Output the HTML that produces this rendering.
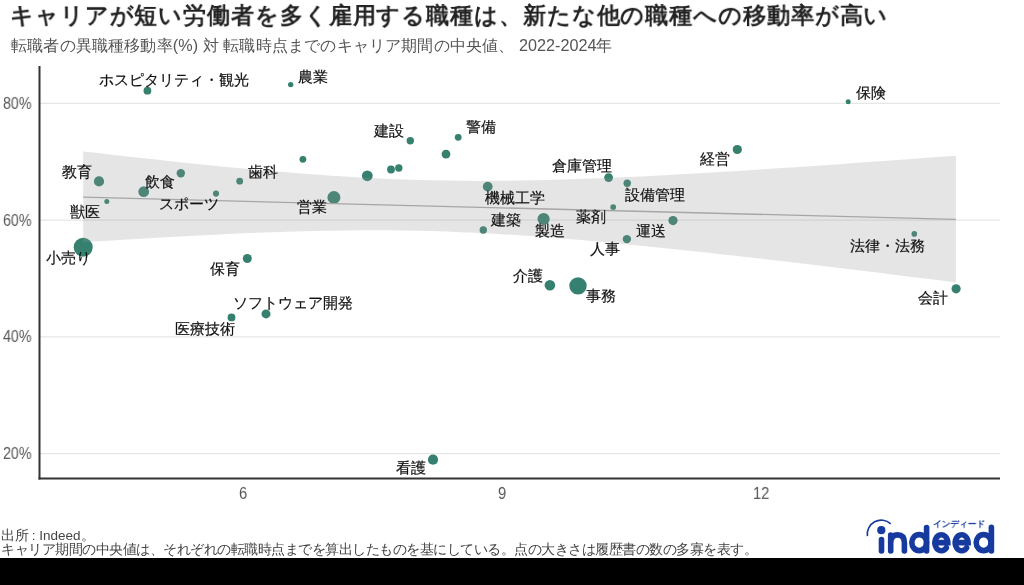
<!DOCTYPE html>
<html lang="ja"><head><meta charset="utf-8"><style>
html,body{margin:0;padding:0;background:#fff;width:1024px;height:585px;overflow:hidden;position:relative}
body{font-family:"Liberation Sans",sans-serif}
svg{position:absolute;left:0;top:0;font-family:"Liberation Sans",sans-serif}
.t{will-change:transform;position:absolute;white-space:nowrap;line-height:1;transform-origin:0 0}
</style></head><body>
<svg width="1024" height="585" viewBox="0 0 1024 585"><line x1="40" y1="103.4" x2="1000" y2="103.4" stroke="#e6e6e6" stroke-width="1.3"/><line x1="40" y1="220.1" x2="1000" y2="220.1" stroke="#e6e6e6" stroke-width="1.3"/><line x1="40" y1="336.85" x2="1000" y2="336.85" stroke="#e6e6e6" stroke-width="1.3"/><line x1="40" y1="453.6" x2="1000" y2="453.6" stroke="#e6e6e6" stroke-width="1.3"/><circle cx="83.2" cy="247.20" r="9.5" fill="#35806e"/><circle cx="99" cy="181.40" r="5.1" fill="#35806e"/><circle cx="106.8" cy="201.40" r="2.5" fill="#35806e"/><circle cx="143.7" cy="191.70" r="5.4" fill="#35806e"/><circle cx="180.8" cy="173.20" r="4.2" fill="#35806e"/><circle cx="216" cy="193.60" r="3.1" fill="#35806e"/><circle cx="239.7" cy="181.20" r="3.4" fill="#35806e"/><circle cx="302.9" cy="159.30" r="3.4" fill="#35806e"/><circle cx="333.9" cy="197.50" r="6.5" fill="#35806e"/><circle cx="367.3" cy="175.80" r="5.4" fill="#35806e"/><circle cx="147.4" cy="90.70" r="3.9" fill="#35806e"/><circle cx="290.7" cy="84.60" r="2.7" fill="#35806e"/><circle cx="410.3" cy="140.70" r="3.7" fill="#35806e"/><circle cx="458.2" cy="137.30" r="3.4" fill="#35806e"/><circle cx="446" cy="154.10" r="4.4" fill="#35806e"/><circle cx="391" cy="169.50" r="3.9" fill="#35806e"/><circle cx="398.8" cy="168.00" r="3.7" fill="#35806e"/><circle cx="487.7" cy="186.60" r="4.9" fill="#35806e"/><circle cx="483.3" cy="230.00" r="3.7" fill="#35806e"/><circle cx="543.6" cy="219.00" r="6.1" fill="#35806e"/><circle cx="608.6" cy="177.60" r="4.4" fill="#35806e"/><circle cx="627.2" cy="183.20" r="3.7" fill="#35806e"/><circle cx="613.2" cy="207.10" r="2.9" fill="#35806e"/><circle cx="673" cy="220.60" r="4.6" fill="#35806e"/><circle cx="626.9" cy="239.10" r="4.2" fill="#35806e"/><circle cx="737.3" cy="149.50" r="4.6" fill="#35806e"/><circle cx="848.2" cy="101.80" r="2.5" fill="#35806e"/><circle cx="914.3" cy="233.90" r="2.8" fill="#35806e"/><circle cx="956.1" cy="288.80" r="4.6" fill="#35806e"/><circle cx="549.9" cy="285.30" r="5.3" fill="#35806e"/><circle cx="578" cy="285.90" r="8.7" fill="#35806e"/><circle cx="247.3" cy="258.50" r="4.5" fill="#35806e"/><circle cx="266" cy="313.90" r="4.5" fill="#35806e"/><circle cx="231.5" cy="317.40" r="3.9" fill="#35806e"/><circle cx="433" cy="459.70" r="5.1" fill="#35806e"/><path d="M83.20,151.42 L97.75,153.10 L112.29,154.76 L126.84,156.41 L141.38,158.03 L155.93,159.62 L170.47,161.19 L185.01,162.73 L199.56,164.23 L214.11,165.70 L228.65,167.13 L243.19,168.52 L257.74,169.85 L272.28,171.14 L286.83,172.36 L301.38,173.53 L315.92,174.62 L330.46,175.65 L345.01,176.59 L359.55,177.45 L374.10,178.22 L388.64,178.89 L403.19,179.47 L417.73,179.95 L432.28,180.33 L446.82,180.61 L461.37,180.79 L475.91,180.88 L490.46,180.86 L505.00,180.76 L519.55,180.58 L534.09,180.31 L548.64,179.97 L563.18,179.55 L577.73,179.08 L592.27,178.55 L606.82,177.96 L621.37,177.32 L635.91,176.64 L650.45,175.92 L665.00,175.16 L679.54,174.37 L694.09,173.55 L708.63,172.70 L723.18,171.82 L737.73,170.92 L752.27,170.00 L766.81,169.06 L781.36,168.11 L795.90,167.14 L810.45,166.15 L825.00,165.15 L839.54,164.13 L854.09,163.11 L868.63,162.07 L883.17,161.03 L897.72,159.97 L912.26,158.91 L926.81,157.84 L941.36,156.76 L955.90,155.68 L955.90,282.41 L941.36,280.58 L926.81,278.77 L912.26,276.96 L897.72,275.15 L883.17,273.36 L868.63,271.57 L854.09,269.80 L839.54,268.03 L825.00,266.28 L810.45,264.54 L795.90,262.81 L781.36,261.10 L766.81,259.40 L752.27,257.73 L737.73,256.07 L723.18,254.43 L708.63,252.81 L694.09,251.22 L679.54,249.66 L665.00,248.13 L650.45,246.63 L635.91,245.17 L621.37,243.75 L606.82,242.37 L592.27,241.05 L577.73,239.77 L563.18,238.56 L548.64,237.41 L534.09,236.32 L519.55,235.32 L505.00,234.39 L490.46,233.55 L475.91,232.80 L461.37,232.14 L446.82,231.58 L432.28,231.12 L417.73,230.76 L403.19,230.50 L388.64,230.34 L374.10,230.28 L359.55,230.31 L345.01,230.43 L330.46,230.63 L315.92,230.91 L301.38,231.27 L286.83,231.69 L272.28,232.18 L257.74,232.72 L243.19,233.32 L228.65,233.97 L214.11,234.66 L199.56,235.39 L185.01,236.15 L170.47,236.95 L155.93,237.78 L141.38,238.63 L126.84,239.51 L112.29,240.42 L97.75,241.34 L83.20,242.28 Z" fill="#999" fill-opacity="0.25"/><line x1="83.2" y1="197.20" x2="955.9" y2="219.39" stroke="#a6a6a6" stroke-width="1.3"/><line x1="39.5" y1="66" x2="39.5" y2="479.4" stroke="#333" stroke-width="2"/><line x1="38.5" y1="478.4" x2="1000" y2="478.4" stroke="#333" stroke-width="2"/><rect x="0" y="558" width="1024" height="27" fill="#000"/></svg>
<div class="t" style="left:99.25px;top:71.60px;font-size:15px;-webkit-text-stroke:0.2px #111;color:#111;transform:scale(1.0000,1.0000)">ホスピタリティ・観光</div><div class="t" style="left:297.50px;top:69.30px;font-size:15px;-webkit-text-stroke:0.2px #111;color:#111;transform:scale(1.0000,1.0000)">農業</div><div class="t" style="left:61.50px;top:163.65px;font-size:15px;-webkit-text-stroke:0.2px #111;color:#111;transform:scale(1.0000,1.0000)">教育</div><div class="t" style="left:69.60px;top:203.70px;font-size:15px;-webkit-text-stroke:0.2px #111;color:#111;transform:scale(1.0000,1.0000)">獣医</div><div class="t" style="left:45.80px;top:250.35px;font-size:15px;-webkit-text-stroke:0.2px #111;color:#111;transform:scale(1.0000,1.0000)">小売り</div><div class="t" style="left:145.35px;top:174.25px;font-size:15px;-webkit-text-stroke:0.2px #111;color:#111;transform:scale(1.0000,1.0000)">飲食</div><div class="t" style="left:158.90px;top:196.45px;font-size:15px;-webkit-text-stroke:0.2px #111;color:#111;transform:scale(1.0000,1.0000)">スポーツ</div><div class="t" style="left:247.65px;top:164.25px;font-size:15px;-webkit-text-stroke:0.2px #111;color:#111;transform:scale(1.0000,1.0000)">歯科</div><div class="t" style="left:297.25px;top:199.35px;font-size:15px;-webkit-text-stroke:0.2px #111;color:#111;transform:scale(1.0000,1.0000)">営業</div><div class="t" style="left:373.50px;top:123.15px;font-size:15px;-webkit-text-stroke:0.2px #111;color:#111;transform:scale(1.0000,1.0000)">建設</div><div class="t" style="left:465.60px;top:119.45px;font-size:15px;-webkit-text-stroke:0.2px #111;color:#111;transform:scale(1.0000,1.0000)">警備</div><div class="t" style="left:485.05px;top:190.25px;font-size:15px;-webkit-text-stroke:0.2px #111;color:#111;transform:scale(1.0000,1.0000)">機械工学</div><div class="t" style="left:491.05px;top:212.30px;font-size:15px;-webkit-text-stroke:0.2px #111;color:#111;transform:scale(1.0000,1.0000)">建築</div><div class="t" style="left:534.95px;top:222.70px;font-size:15px;-webkit-text-stroke:0.2px #111;color:#111;transform:scale(1.0000,1.0000)">製造</div><div class="t" style="left:552.35px;top:157.80px;font-size:15px;-webkit-text-stroke:0.2px #111;color:#111;transform:scale(1.0000,1.0000)">倉庫管理</div><div class="t" style="left:624.60px;top:186.60px;font-size:15px;-webkit-text-stroke:0.2px #111;color:#111;transform:scale(1.0000,1.0000)">設備管理</div><div class="t" style="left:575.75px;top:209.30px;font-size:15px;-webkit-text-stroke:0.2px #111;color:#111;transform:scale(1.0000,1.0000)">薬剤</div><div class="t" style="left:635.60px;top:222.85px;font-size:15px;-webkit-text-stroke:0.2px #111;color:#111;transform:scale(1.0000,1.0000)">運送</div><div class="t" style="left:589.65px;top:241.05px;font-size:15px;-webkit-text-stroke:0.2px #111;color:#111;transform:scale(1.0000,1.0000)">人事</div><div class="t" style="left:700.05px;top:151.35px;font-size:15px;-webkit-text-stroke:0.2px #111;color:#111;transform:scale(1.0000,1.0000)">経営</div><div class="t" style="left:856.00px;top:84.60px;font-size:15px;-webkit-text-stroke:0.2px #111;color:#111;transform:scale(1.0000,1.0000)">保険</div><div class="t" style="left:850.00px;top:238.00px;font-size:15px;-webkit-text-stroke:0.2px #111;color:#111;transform:scale(1.0000,1.0000)">法律・法務</div><div class="t" style="left:918.00px;top:290.25px;font-size:15px;-webkit-text-stroke:0.2px #111;color:#111;transform:scale(1.0000,1.0000)">会計</div><div class="t" style="left:210.25px;top:260.75px;font-size:15px;-webkit-text-stroke:0.2px #111;color:#111;transform:scale(1.0000,1.0000)">保育</div><div class="t" style="left:232.55px;top:294.75px;font-size:15px;-webkit-text-stroke:0.2px #111;color:#111;transform:scale(1.0000,1.0000)">ソフトウェア開発</div><div class="t" style="left:175.20px;top:321.05px;font-size:15px;-webkit-text-stroke:0.2px #111;color:#111;transform:scale(1.0000,1.0000)">医療技術</div><div class="t" style="left:512.55px;top:267.65px;font-size:15px;-webkit-text-stroke:0.2px #111;color:#111;transform:scale(1.0000,1.0000)">介護</div><div class="t" style="left:586.10px;top:287.65px;font-size:15px;-webkit-text-stroke:0.2px #111;color:#111;transform:scale(1.0000,1.0000)">事務</div><div class="t" style="left:395.55px;top:459.75px;font-size:15px;-webkit-text-stroke:0.2px #111;color:#111;transform:scale(1.0000,1.0000)">看護</div><div class="t" style="left:9.78px;top:3.97px;font-size:24px;font-weight:700;letter-spacing:0.9px;color:#222;transform:scale(0.9609,0.9609)">キャリアが短い労働者を多く雇用する職種は、新たな他の職種への移動率が高い</div><div class="t" style="left:10.70px;top:38.00px;font-size:16px;color:#555;transform:scale(1.0116,1.0116)">転職者の異職種移動率(%) 対 転職時点までのキャリア期間の中央値、 2022-2024年</div><div class="t" style="left:0.56px;top:542.50px;font-size:13px;color:#444;transform:scale(1.0390,1.0390)">キャリア期間の中央値は、それぞれの転職時点までを算出したものを基にしている。点の大きさは履歴書の数の多寡を表す。</div><div class="t" style="left:0.56px;top:528.80px;font-size:13px;color:#444;transform:scale(1.0390,1.0390)">出所 : Indeed。</div><div class="t" style="left:2.90px;top:94.90px;font-size:15px;color:#555;transform:scale(0.9500,1.0630)">80%</div><div class="t" style="left:2.90px;top:211.60px;font-size:15px;color:#555;transform:scale(0.9500,1.0630)">60%</div><div class="t" style="left:2.90px;top:328.35px;font-size:15px;color:#555;transform:scale(0.9500,1.0630)">40%</div><div class="t" style="left:2.90px;top:445.10px;font-size:15px;color:#555;transform:scale(0.9500,1.0630)">20%</div><div class="t" style="left:238.64px;top:485.40px;font-size:15px;color:#555;transform:scale(0.9800,1.0630)">6</div><div class="t" style="left:497.99px;top:485.40px;font-size:15px;color:#555;transform:scale(0.9800,1.0630)">9</div><div class="t" style="left:753.47px;top:485.40px;font-size:15px;color:#555;transform:scale(0.9800,1.0630)">12</div><div class="t" style="left:933.23px;top:519.90px;font-size:9px;font-weight:700;color:#163a9e;transform:scale(0.9673,0.9673)">インディード</div>
<svg class="logo" width="1024" height="585" viewBox="0 0 1024 585">
<g fill="none" stroke="#163a9e" stroke-width="5.6" stroke-linecap="round">
<path d="M867.4,536.2 A14,14 0 0 1 890.7,523.8" stroke-width="1.6" stroke-linecap="butt"/>
<path d="M881.5,539.5 V551"/>
<path d="M890.7,551 V535 M890.7,543 Q890.7,534.9 897.6,534.9 Q904.4,534.9 904.4,543 V551"/>
<ellipse cx="919.2" cy="542.6" rx="7.4" ry="8"/>
<path d="M926.6,527.6 V551"/>
<path d="M935,542.6 H947.8 A6.45,8 0 1 0 946.3,547.9"/>
<path d="M955.3,542.6 H968.1 A6.45,8 0 1 0 966.6,547.9"/>
<ellipse cx="983.6" cy="542.6" rx="7.4" ry="8"/>
<path d="M991.4,527.4 V551"/>
</g>
<circle cx="881.3" cy="530.2" r="4.1" fill="#163a9e"/>
</svg>
</body></html>
